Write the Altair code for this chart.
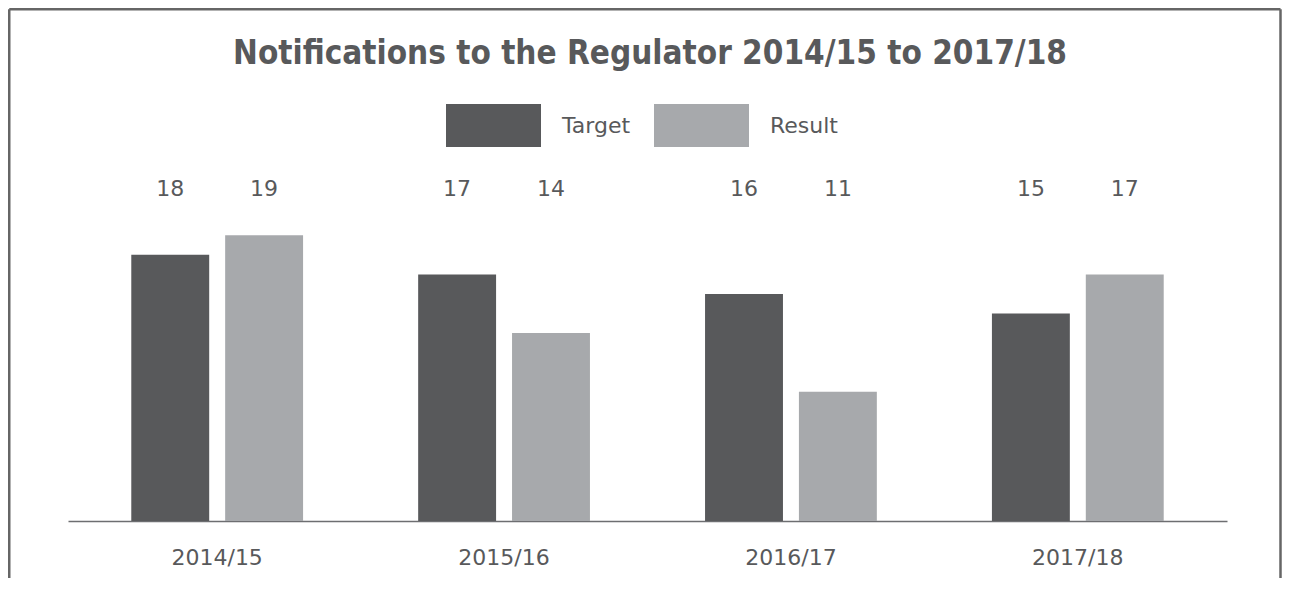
import altair as alt
import pandas as pd

title_text = "Notifications to the Regulator 2014/15 to 2017/18"
years = ["2014/15", "2015/16", "2016/17", "2017/18"]
series = ["Target", "Result"]
target = [18, 17, 16, 15]
result = [19, 14, 11, 17]
colors = ["#58595b", "#a7a9ac"]

rows = []
for i, y in enumerate(years):
    rows.append({"year": y, "series": "Target", "value": target[i]})
    rows.append({"year": y, "series": "Result", "value": result[i]})
df = pd.DataFrame(rows)

TXT = "#58595b"
FONT = "DejaVu Sans"

x_enc = alt.X("year:N", sort=years, title=None,
              scale=alt.Scale(paddingInner=0, paddingOuter=0.02),
              axis=alt.Axis(labelAngle=0, labelFont=FONT, labelFontSize=22,
                            labelColor=TXT, ticks=False, domainColor="#6d6e71",
                            domainWidth=1.5, labelPadding=26, grid=False))
xo_enc = alt.XOffset("series:N", sort=series,
                     scale=alt.Scale(paddingInner=0.17, paddingOuter=0.613))

bars = alt.Chart(df).mark_bar().encode(
    x=x_enc,
    xOffset=xo_enc,
    y=alt.Y("value:Q", axis=None,
            scale=alt.Scale(domain=[4.4, 20.8], zero=False, clamp=True, nice=False)),
    color=alt.Color("series:N", sort=series,
                    scale=alt.Scale(domain=series, range=colors),
                    legend=alt.Legend(title=None, orient="none", direction="horizontal",
                                      legendX=378, legendY=-122,
                                      symbolType="M-1,-0.453h2v0.905h-2z",
                                      symbolSize=9025, symbolStrokeWidth=0,
                                      symbolOpacity=1,
                                      labelFont=FONT, labelFontSize=22, labelColor=TXT,
                                      labelOffset=21, columnPadding=23, padding=0)),
)

labels = alt.Chart(df).mark_text(font=FONT, fontSize=22, color=TXT, baseline="middle").encode(
    x=alt.X("year:N", sort=years),
    xOffset=alt.XOffset("series:N", sort=series),
    y=alt.value(-11),
    text="value:Q",
)

frame_data = alt.Data(values=[{"k": 1}])
title = alt.Chart(frame_data).mark_text(
    font="DejaVu Sans Condensed, DejaVu Sans", fontSize=33, fontWeight="bold", color=TXT,
    align="center", baseline="middle").encode(
    x=alt.value(582), y=alt.value(-146), text=alt.value(title_text))

frame_left = alt.Chart(frame_data).mark_rule(color="#666666", strokeWidth=2.5).encode(
    x=alt.value(-58.75), y=alt.value(-190.75), y2=alt.value(380))
frame_right = alt.Chart(frame_data).mark_rule(color="#666666", strokeWidth=2.5).encode(
    x=alt.value(1212.5), y=alt.value(-190.75), y2=alt.value(380))
frame_top = alt.Chart(frame_data).mark_rule(color="#666666", strokeWidth=2.5).encode(
    x=alt.value(-58.75), x2=alt.value(1212.5), y=alt.value(-190.75))

chart = alt.layer(bars, labels, title, frame_left, frame_right, frame_top).properties(
    width=1159, height=321,
    background="white",
    autosize=alt.AutoSizeParams(type="none"),
    padding={"left": 60, "top": 192, "right": 55, "bottom": 57},
).configure_view(stroke=None)

chart.save("out.html", embed_options={"renderer": "svg", "actions": False})
